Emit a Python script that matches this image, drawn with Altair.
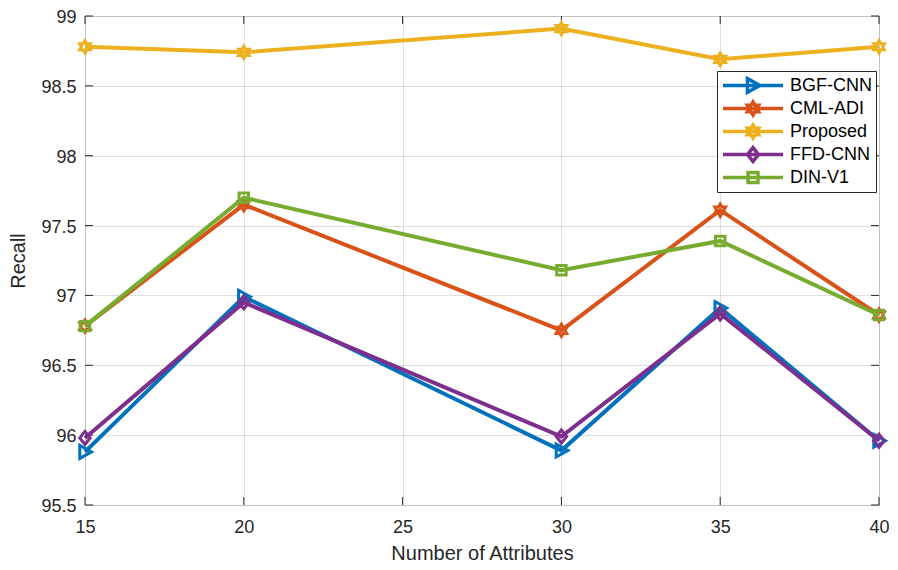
import math
import altair as alt
import pandas as pd

# ---------------- data ----------------
x_vals = [15, 20, 30, 35, 40]
series_names = ["BGF-CNN", "CML-ADI", "Proposed", "FFD-CNN", "DIN-V1"]
bgf_cnn = [95.88, 96.99, 95.89, 96.91, 95.96]
cml_adi = [96.78, 97.65, 96.75, 97.61, 96.86]
proposed = [98.78, 98.74, 98.91, 98.69, 98.78]
ffd_cnn = [95.98, 96.95, 95.99, 96.87, 95.96]
din_v1 = [96.78, 97.70, 97.18, 97.39, 96.86]
colors = ["#0072BD", "#D95319", "#EDB120", "#7E2F8E", "#77AC30"]
x_ticks = [15, 20, 25, 30, 35, 40]
y_ticks = [95.5, 96, 96.5, 97, 97.5, 98, 98.5, 99]
x_title = "Number of Attributes"
y_title = "Recall"

values = [bgf_cnn, cml_adi, proposed, ffd_cnn, din_v1]
rows = []
for name, vals in zip(series_names, values):
    for xv, yv in zip(x_vals, vals):
        rows.append({"x": xv, "y": yv, "series": name})
df = pd.DataFrame(rows)

# ---------------- marker shapes ----------------
def poly(pts, k=1.0):
    return "M" + "L".join(f"{px*k:.3f},{py*k:.3f}" for px, py in pts) + "Z"

tri_right = [(-0.8, -1.0), (1.0, 0.0), (-0.8, 1.0)]
hexagram = []
for i in range(12):
    a = math.radians(-90 + 30 * i)
    r = 0.95 if i % 2 == 0 else 0.95 / math.sqrt(3)
    hexagram.append((r * math.cos(a), r * math.sin(a)))
diamond = [(0, -1.0), (0.8, 0), (0, 1.0), (-0.8, 0)]
square = [(-0.72, -0.72), (0.72, -0.72), (0.72, 0.72), (-0.72, 0.72)]
shapes = [tri_right, hexagram, hexagram, diamond, square]

point_paths = [poly(s) for s in shapes]
legend_paths = ["M-1,0H1" + poly(s, 0.23) for s in shapes]

W, H = 794, 489
FONT = "Liberation Sans"
TXT = "#262626"

xscale = alt.Scale(domain=[15, 40], nice=False, zero=False)
yscale = alt.Scale(domain=[95.5, 99], nice=False, zero=False)

x_axis = alt.Axis(values=x_ticks, title=x_title, grid=True, domain=False, tickSize=0,
                  labelPadding=13, titlePadding=7, labelFontSize=18, titleFontSize=20,
                  labelFont=FONT, titleFont=FONT, labelColor=TXT, titleColor=TXT,
                  titleFontWeight="normal", gridColor="#262626", gridOpacity=0.15,
                  labelFlush=False)
y_axis = alt.Axis(values=y_ticks, title=y_title, grid=True, domain=False, tickSize=0,
                  labelPadding=9, titlePadding=12, labelFontSize=18, titleFontSize=20,
                  labelFont=FONT, titleFont=FONT, labelColor=TXT, titleColor=TXT,
                  titleFontWeight="normal", gridColor="#262626", gridOpacity=0.15,
                  labelExpr="toString(datum.value)", labelFlush=False, labelOffset=1.5)


def X(field):
    return alt.X(field, scale=xscale, axis=x_axis)


def Y(field):
    return alt.Y(field, scale=yscale, axis=y_axis)


base = alt.Chart(df)
layers = []

# inward ticks
xt = alt.Chart(pd.DataFrame({"t": x_ticks}))
yt = alt.Chart(pd.DataFrame({"t": y_ticks}))
tick_style = dict(color=TXT, strokeWidth=1)
layers.append(xt.mark_rule(**tick_style).encode(x=X("t:Q"), y=alt.value(0), y2=alt.value(8)))
layers.append(xt.mark_rule(**tick_style).encode(x=X("t:Q"), y=alt.value(H), y2=alt.value(H - 8)))
layers.append(yt.mark_rule(**tick_style).encode(y=Y("t:Q"), x=alt.value(0), x2=alt.value(8)))
layers.append(yt.mark_rule(**tick_style).encode(y=Y("t:Q"), x=alt.value(W), x2=alt.value(W - 8)))

# legend-only layer (invisible marks)
leg = alt.Legend(title=None, orient="none", legendX=632, legendY=55,
                 labelFont=FONT, labelFontSize=18, labelColor="#000000",
                 symbolSize=3600, symbolStrokeWidth=3.5,
                 clipHeight=21, rowPadding=2, padding=4, labelOffset=5,
                 strokeColor=TXT, fillColor="white", cornerRadius=0,
                 symbolFillColor="transparent", symbolOpacity=1)

layers.append(base.mark_point(filled=False, fill="transparent", strokeWidth=0, opacity=1).encode(
    x=X("x:Q"), y=Y("y:Q"),
    stroke=alt.Stroke("series:N", scale=alt.Scale(domain=series_names, range=colors),
                      sort=series_names, legend=leg),
    shape=alt.Shape("series:N", scale=alt.Scale(domain=series_names, range=legend_paths),
                    sort=series_names, legend=leg)))

for name, col, path in zip(series_names, colors, point_paths):
    sub = base.transform_filter(alt.datum.series == name)
    layers.append(sub.mark_line(color=col, strokeWidth=4).encode(x=X("x:Q"), y=Y("y:Q")))
    layers.append(sub.mark_point(shape=path, color=col, filled=False, strokeWidth=3,
                                 size=170, opacity=1).encode(x=X("x:Q"), y=Y("y:Q")))

chart = alt.layer(*layers).properties(
    width=W, height=H,
    autosize=alt.AutoSizeParams(type="none"),
    padding={"left": 77, "top": 8, "right": 11, "bottom": 57},
).configure_view(stroke=TXT, strokeWidth=1).configure(background="white")

chart.save("out.html", embed_options={"renderer": "svg", "actions": False})
